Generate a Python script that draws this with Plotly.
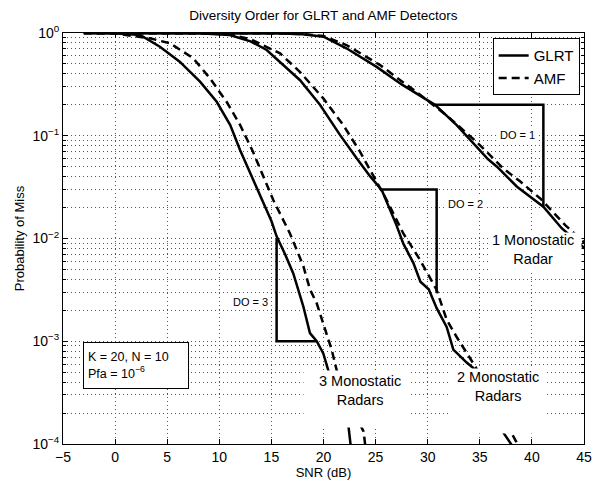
import plotly.graph_objects as go

# ---------------- data ----------------
snr_glrt3 = [-3, 0, 2.4, 4.3, 6.2, 8.15, 9.75, 11.05, 12.0, 13.0, 14.0, 15.0, 15.5, 16.3, 17.1,
             18.06, 18.7, 19.35, 19.98, 20.46, 21.5, 22.4, 22.7]
pm_glrt3 = [0.9999, 0.995, 0.957, 0.735, 0.526, 0.336, 0.214, 0.127, 0.0724, 0.0427, 0.0251,
            0.0148, 0.0105, 0.00708, 0.00457, 0.00219, 0.0012, 0.001, 0.00076, 0.00052,
            0.00027, 0.000148, 0.00008]

snr_amf3 = [-3, 0, 3.35, 5.27, 7.5, 9.1, 10.7, 12.0, 13.2, 15.18, 16.78, 18.06, 18.7, 19.35,
            19.98, 20.78, 21.27, 22.5, 23.85, 24.1]
pm_amf3 = [0.9999, 0.99, 0.887, 0.794, 0.568, 0.363, 0.214, 0.127, 0.071, 0.0237, 0.0112,
           0.0054, 0.0032, 0.00234, 0.00148, 0.00083, 0.00052, 0.00025, 0.000132, 0.00008]

snr_glrt2 = [-3, 8, 11.0, 13.0, 14.55, 15.83, 17.75, 19.66, 21.58, 23.2, 24.5, 25.6, 26.4, 27.0,
             27.66, 28.62, 29.3, 30.1, 30.86, 31.82, 32.46, 33.74, 34.38, 35.8, 37.2, 38.0, 38.4]
pm_glrt2 = [0.9999, 0.995, 0.955, 0.83, 0.684, 0.526, 0.347, 0.2, 0.102, 0.060, 0.040, 0.0295,
            0.019, 0.0135, 0.0089, 0.0058, 0.0038, 0.0032, 0.0021, 0.00138, 0.00083, 0.00062,
            0.00055, 0.00028, 0.000132, 0.0001, 0.00008]

snr_amf2 = [-3, 8, 11.0, 13.0, 15.83, 17.75, 19.98, 21.9, 23.5, 24.94, 26.06, 27.66, 29.26,
            30.86, 31.34, 31.82, 32.78, 33.74, 34.6, 36.5, 38.2, 38.5, 38.8]
pm_amf2 = [0.9999, 0.997, 0.97, 0.87, 0.634, 0.417, 0.231, 0.127, 0.070, 0.0385, 0.0237,
           0.0112, 0.0062, 0.00316, 0.00224, 0.00162, 0.0011, 0.00076, 0.00056, 0.00025,
           0.000123, 0.000105, 0.00009]

snr_glrt1 = [-3, 12, 16, 18, 20, 22.2, 25.1, 27.5, 30.7, 32.78, 35.02, 35.8, 36.65, 37.6,
             38.57, 41.1, 42.86, 45.2]
pm_glrt1 = [0.9999, 0.998, 0.989, 0.972, 0.92, 0.71, 0.468, 0.316, 0.2, 0.127, 0.0724, 0.059,
            0.050, 0.040, 0.0319, 0.0204, 0.0126, 0.0078]

snr_amf1 = [-3, 12, 16, 18, 20, 22.2, 25.4, 27.5, 29.26, 31.8, 34.7, 37.26, 38.86, 40.8, 43.2, 45.2]
pm_amf1 = [0.9999, 0.998, 0.991, 0.977, 0.933, 0.764, 0.49, 0.34, 0.251, 0.158, 0.087, 0.048,
           0.036, 0.0245, 0.0135, 0.0088]

# diversity-order triangles
do1_snr = [30.7, 41.1, 41.1]
do1_pm = [0.2, 0.2, 0.02]
do2_snr = [25.6, 30.86, 30.86]
do2_pm = [0.03, 0.03, 0.003]
do3_snr = [15.5, 15.5, 19.35]
do3_pm = [0.01, 0.001, 0.001]

x_ticks = [-5, 0, 5, 10, 15, 20, 25, 30, 35, 40, 45]
y_ticks = [1, 0.1, 0.01, 0.001, 0.0001]
y_ticktext = ["10<sup>0</sup>", "10<sup>\u22121</sup>", "10<sup>\u22122</sup>",
              "10<sup>\u22123</sup>", "10<sup>\u22124</sup>"]
y_minor = [m * 10.0 ** e for e in range(-4, 0) for m in range(2, 10)]

FONT = "Liberation Sans, Arial, Helvetica, sans-serif"
LW = 2.5
DASH = "8px,5px"

fig = go.Figure()

def add_curve(x, y, dash, name, showlegend):
    fig.add_trace(go.Scatter(x=x, y=y, mode="lines", name=name, showlegend=showlegend,
                             line=dict(color="black", width=LW, dash=dash)))

add_curve(snr_glrt3, pm_glrt3, "solid", "GLRT", True)
add_curve(snr_amf3, pm_amf3, DASH, "AMF", True)
add_curve(snr_glrt2, pm_glrt2, "solid", "GLRT", False)
add_curve(snr_amf2, pm_amf2, DASH, "AMF", False)
add_curve(snr_glrt1, pm_glrt1, "solid", "GLRT", False)
add_curve(snr_amf1, pm_amf1, DASH, "AMF", False)
for xs, ys in [(do1_snr, do1_pm), (do2_snr, do2_pm), (do3_snr, do3_pm)]:
    add_curve(xs, ys, "solid", "DO", False)

annotations = []

def white_box(x_left, y_top, w, h):
    # x in dB, y in log10 units (log axis); anchored at the box's top-left corner
    annotations.append(dict(x=x_left, y=y_top, xref="x", yref="y", text=" ", showarrow=False,
                            width=w, height=h, bgcolor="white", borderpad=0,
                            xanchor="left", yanchor="top"))

def label(xc, yc, text, size):
    annotations.append(dict(x=xc, y=yc, xref="x", yref="y", text=text, showarrow=False,
                            font=dict(family=FONT, size=size, color="black"),
                            xanchor="center", yanchor="middle"))

# white boxes behind curve labels
white_box(18.03, -3.28, 104, 56)
white_box(32.14, -3.26, 95, 64)
white_box(35.79, -1.937, 92, 38)
label(23.5, -3.48, "3 Monostatic<br>Radars", 14.5)
label(36.7, -3.44, "2 Monostatic<br>Radars", 14.5)
label(40.1, -2.11, "1 Monostatic<br>Radar", 14.5)

for xc, yc, t in [(38.6, -0.993, "DO = 1"), (33.6, -1.667, "DO = 2"), (12.95, -2.62, "DO = 3")]:
    annotations.append(dict(x=xc, y=yc, xref="x", yref="y", text=t, showarrow=False,
                            font=dict(family=FONT, size=11, color="black"),
                            bgcolor="white", borderpad=1, xanchor="center", yanchor="middle"))

annotations.append(dict(x=-3.05, y=-3.01, xref="x", yref="y",
                        text="K = 20, N = 10<br>Pfa = 10<sup>\u22126</sup>", showarrow=False,
                        font=dict(family=FONT, size=12.5, color="black"), align="left",
                        width=96, height=37, borderpad=4, bgcolor="white",
                        bordercolor="black", borderwidth=1,
                        xanchor="left", yanchor="top"))

grid_dash = "1px,3px"
fig.update_layout(
    width=597, height=481,
    margin=dict(l=63, r=13, t=33, b=37, pad=0),
    paper_bgcolor="white", plot_bgcolor="white",
    font=dict(family=FONT, size=13, color="black"),
    title=dict(text="Diversity Order for GLRT and AMF Detectors", x=0.5417, xanchor="center",
               y=1 - 15 / 481, yanchor="middle", yref="container",
               font=dict(family=FONT, size=13.5, color="black")),
    showlegend=True,
    legend=dict(x=0.9917, xanchor="right", y=0.987, yanchor="top",
                bgcolor="white", bordercolor="black", borderwidth=1,
                font=dict(family=FONT, size=15, color="black"),
                tracegroupgap=0, itemwidth=30),
    annotations=annotations,
    xaxis=dict(range=[-5, 45], tickvals=x_ticks, showline=True, linecolor="black", linewidth=1,
               mirror="allticks", ticks="inside", ticklen=5, tickcolor="black",
               showgrid=True, gridcolor="#555555", gridwidth=1, griddash=grid_dash,
               zeroline=False, tickfont=dict(family=FONT, size=14),
               title=dict(text="SNR (dB)", font=dict(family=FONT, size=13), standoff=2),
               automargin=False),
    yaxis=dict(type="log", range=[-4, 0], tickvals=y_ticks, ticktext=y_ticktext,
               showline=True, linecolor="black", linewidth=1,
               mirror="allticks", ticks="inside", ticklen=5, tickcolor="black",
               showgrid=True, gridcolor="#555555", gridwidth=1, griddash=grid_dash,
               zeroline=False, tickfont=dict(family=FONT, size=14),
               minor=dict(tickvals=y_minor, ticks="inside", ticklen=3, tickcolor="black",
                          showgrid=True, gridcolor="#555555", gridwidth=1, griddash=grid_dash),
               title=dict(text="Probability of Miss", font=dict(family=FONT, size=13), standoff=4),
               automargin=False),
)

fig.write_html("out.html")
